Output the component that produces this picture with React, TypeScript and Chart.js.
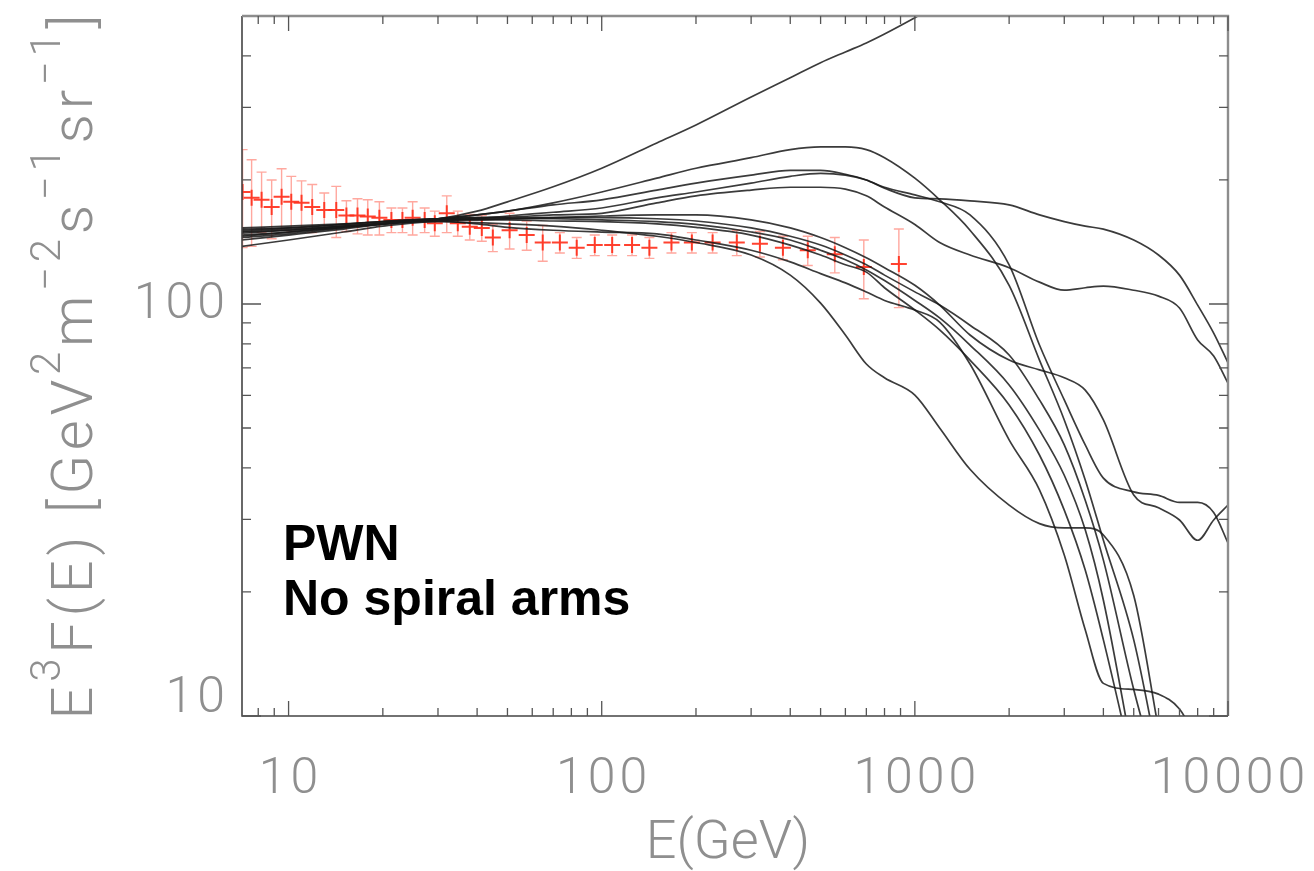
import React, { useEffect, useRef } from "react";
import { Chart, registerables } from "chart.js";

Chart.register(...registerables);

// Energy grid (GeV) shared by the model curves
const energyGrid = [7.1, 10, 15, 20, 30, 40, 50, 70, 100, 150, 200, 300, 400, 500, 600, 700, 800, 1000, 1200, 1500, 2000, 2500, 3000, 3500, 4000, 5000, 6000, 7000, 8000, 9000, 10000];

// Model curves E^3 F(E)
const modelT = [149.5, 151, 154.5, 157, 161, 168, 177, 192.5, 213.5, 246, 272, 318, 354, 385, 409, 430, 452, 495, 535, null, null, null, null, null, null, null, null, null, null, null, null];
const modelP = [152, 153, 156, 158.5, 161, 164.5, 168, 176, 187, 202, 213.5, 226.5, 237, 240.5, 240.5, 237, 226.5, 202, 179, 151, 111, 73.1, 52.3, 37.4, 26.7, 15.3, 7.8, null, null, null, null];
const modelQ = [150, 152, 154.5, 157, 161, 164.5, 168, 174, 179, 189, 196.5, 205.5, 211, 211, 206.5, 200, 191, 181, 180, 178, 174, 164.5, 158.5, 154.5, 152, 143, 131.5, 117.5, 99.4, 85, 72];
const modelR = [148.5, 151, 154.5, 157, 161, 162, 162.5, 164.5, 166, 176, 183, 189, 192, 192, 190, 183, 172, 156, 141, 131.5, 122.5, 113, 108, 109.5, 110.5, 108, 104.5, 97.8, 81.8, 74.8, 64.3];
const modelS = [147, 149.5, 153.5, 156.5, 159, 161, 163.5, 167, 171, 181, 187, 196.5, 204, 207.5, 205.5, 200, 192, 184, 177, 164.5, 124.5, 79.5, 58.5, 45.5, 37.8, 35, 34.3, 33, 33, 31.2, 26.3];
const modelU = [145, 148, 153, 156.5, 160, 160, 161, 162, 163.5, 164.5, 164.5, 160, 153, 145, 137, 129.5, 122.5, 111, 99.4, 84.1, 73.1, 69.2, 66.2, 61.8, 52.3, 34.4, 32, 29.9, 26.7, 29.9, 32.5];
const modelB1 = [153, 154.5, 156.5, 158.5, 161, 162, 162, 162, 162, 161, 159, 153, 146, 139, 131.5, 124.5, 117.5, 107, 99.4, 88.8, 75.2, 58.5, 45.5, 33.4, 23.9, 11.6, 7, null, null, null, null];
const modelB2 = [151, 153, 156, 158.5, 161, 161, 161, 161, 160, 158.5, 156, 149.5, 143, 135, 128, 121, 114, 102, 92.5, 79.5, 63.6, 49.4, 38.4, 28.3, 19.1, 7.8, null, null, null, null, null];
const modelB3 = [146, 149.5, 153.5, 156.5, 160, 160, 160, 159, 158.5, 156.5, 153.5, 147, 139, 131.5, 124.5, 119.5, 109.5, 96.7, 86.5, 73.1, 56.9, 43, 31.6, 22.6, 15.3, 7.4, null, null, null, null, null];
const modelB4 = [143, 147, 152, 156, 159, 156.5, 153.5, 151, 149.5, 148, 143, 135, 126.5, 118.5, 112.5, 106.9, 102, 96.7, 90.4, 71.5, 46.8, 35.4, 24.6, 16.2, 12, 11.6, 11.3, 10.4, 8.7, null, null];
const modelB5 = [138, 143, 149.5, 154.5, 158.5, 157.5, 156.5, 154.5, 151, 146, 141, 131.5, 117.5, 100.5, 84.1, 71.5, 66.2, 60.1, 50, 39.7, 32.5, 29.3, 28.6, 28.6, 27.5, 19.6, 9.3, null, null, null, null];

const modelCurves = [modelT, modelP, modelQ, modelR, modelS, modelU, modelB1, modelB2, modelB3, modelB4, modelB5];

// Measured data points (red crosses)
const dataEnergy = [7.13, 7.62, 8.2, 8.83, 9.5, 10.2, 11.0, 11.9, 13.0, 14.2, 15.3, 16.6, 17.9, 19.5, 21.3, 23.1, 24.9, 27.2, 29.3, 32.0, 34.7, 37.9, 41.4, 44.9, 50.8, 57.6, 64.8, 73.5, 83.2, 95.0, 108, 125, 142, 167, 194, 226, 270, 320, 379, 455, 555, 687, 889];
const dataFlux = [187, 181, 179, 172, 182, 177, 176, 172, 169, 169, 164, 164, 163, 162, 160, 160, 162, 160, 157, 166, 157, 154, 153, 145, 151, 147, 141, 141, 137, 139, 139, 139, 137, 141, 141, 141, 141, 140, 137, 135, 132, 123, 125];
const dataError = [50, 43, 30, 28, 31, 27, 23, 23, 17, 24, 14, 16, 16, 15, 11, 11, 15, 11, 11, 17, 11, 11, 11, 11, 15, 12, 14, 8, 8, 8, 8, 8, 8, 8, 8, 8, 10, 10, 9, 11, 13, 20, 27];

const xMajorTicks = [10, 100, 1000, 10000];
const yMajorTicks = [10, 100];
const xMinorTicks = [8, 9, 20, 30, 40, 50, 60, 70, 80, 90, 200, 300, 400, 500, 600, 700, 800, 900, 2000, 3000, 4000, 5000, 6000, 7000, 8000, 9000];
const yMinorTicks = [20, 30, 40, 50, 60, 70, 80, 90, 200, 300, 400];
const xRange = [7.1, 10000];
const yRange = [10, 500];

const annotationLines = ["PWN", "No spiral arms"];
const xTitle = "E(GeV)";
const yTitleParts = [
  { t: "E", sup: false },
  { t: "3", sup: true },
  { t: "F(E) [GeV", sup: false },
  { t: "2", sup: true },
  { t: "m", sup: false },
  { t: "\u22122", sup: true },
  { t: "s", sup: false },
  { t: "\u22121", sup: true },
  { t: "sr", sup: false },
  { t: "\u22121", sup: true },
  { t: "]", sup: false },
];

const LABEL_FONT = "300 50px Roboto, 'DejaVu Sans', sans-serif";
const LABEL_COLOR = "#8f8f8f";

function drawYTitle(ctx: CanvasRenderingContext2D, cx: number, cy: number, target: number) {
  const big = "300 58px Roboto, 'DejaVu Sans', sans-serif";
  const small = "300 42px Roboto, 'DejaVu Sans', sans-serif";
  const chars: { c: string; sup: boolean; w: number }[] = [];
  yTitleParts.forEach((p) => {
    ctx.font = p.sup ? small : big;
    for (const c of p.t) chars.push({ c, sup: p.sup, w: ctx.measureText(c).width });
  });
  const natural = chars.reduce((s, c) => s + c.w, 0);
  const gap = Math.max(0, (target - natural) / (chars.length - 1));
  ctx.save();
  ctx.translate(cx, cy);
  ctx.rotate(-Math.PI / 2);
  ctx.fillStyle = LABEL_COLOR;
  ctx.textBaseline = "alphabetic";
  ctx.textAlign = "left";
  let x = -target / 2;
  chars.forEach((c) => {
    ctx.font = c.sup ? small : big;
    ctx.fillText(c.c, x, c.sup ? -32 : 0);
    x += c.w + gap;
  });
  ctx.restore();
}

const decorPlugin = {
  id: "decor",
  beforeDatasetsDraw(chart: any) {
    const { ctx, chartArea: a, scales } = chart;
    const xs = scales.x;
    const ys = scales.y;
    ctx.save();
    ctx.beginPath();
    ctx.rect(a.left, a.top, a.right - a.left, a.bottom - a.top);
    ctx.clip();
    ctx.strokeStyle = "rgba(255,110,95,0.6)";
    ctx.lineWidth = 1.4;
    dataEnergy.forEach((e, i) => {
      const px = xs.getPixelForValue(e);
      const top = ys.getPixelForValue(dataFlux[i] + dataError[i]);
      const bot = ys.getPixelForValue(dataFlux[i] - dataError[i]);
      ctx.beginPath();
      ctx.moveTo(px, top);
      ctx.lineTo(px, bot);
      ctx.moveTo(px - 5, top);
      ctx.lineTo(px + 5, top);
      ctx.moveTo(px - 5, bot);
      ctx.lineTo(px + 5, bot);
      ctx.stroke();
    });
    ctx.restore();
  },
  afterDraw(chart: any) {
    const { ctx, chartArea: a, scales } = chart;
    const xs = scales.x;
    const ys = scales.y;
    ctx.save();
    // frame
    ctx.lineWidth = 1.6;
    ctx.strokeStyle = "#444";
    ctx.beginPath();
    ctx.moveTo(a.left, a.top);
    ctx.lineTo(a.left, a.bottom);
    ctx.lineTo(a.right, a.bottom);
    ctx.stroke();
    ctx.lineWidth = 2.4;
    ctx.strokeStyle = "#8d8d8d";
    ctx.beginPath();
    ctx.moveTo(a.left, a.top);
    ctx.lineTo(a.right, a.top);
    ctx.lineTo(a.right, a.bottom);
    ctx.stroke();
    // ticks
    ctx.lineWidth = 1.3;
    ctx.strokeStyle = "#555";
    const xt = (v: number, len: number) => {
      const px = xs.getPixelForValue(v);
      ctx.beginPath();
      ctx.moveTo(px, a.bottom);
      ctx.lineTo(px, a.bottom - len);
      ctx.moveTo(px, a.top);
      ctx.lineTo(px, a.top + len);
      ctx.stroke();
    };
    const yt = (v: number, len: number) => {
      const py = ys.getPixelForValue(v);
      ctx.beginPath();
      ctx.moveTo(a.left, py);
      ctx.lineTo(a.left + len, py);
      ctx.moveTo(a.right, py);
      ctx.lineTo(a.right - len, py);
      ctx.stroke();
    };
    xMinorTicks.forEach((v) => xt(v, 8));
    xMajorTicks.forEach((v) => xt(v, 15));
    yMinorTicks.forEach((v) => yt(v, 9));
    yMajorTicks.forEach((v) => yt(v, 19));
    // tick labels
    ctx.font = LABEL_FONT;
    ctx.fillStyle = LABEL_COLOR;
    ctx.textBaseline = "alphabetic";
    ctx.textAlign = "left";
    (ctx as any).letterSpacing = "4px";
    xMajorTicks.forEach((v) => {
      const s = String(v);
      const w = ctx.measureText(s).width - 4;
      ctx.fillText(s, xs.getPixelForValue(v) - w / 2, 793);
    });
    ctx.textBaseline = "middle";
    yMajorTicks.forEach((v) => {
      const s = String(v);
      const w = ctx.measureText(s).width - 4;
      const py = Math.min(ys.getPixelForValue(v), a.bottom - 19);
      ctx.fillText(s, a.left - 17 - w, py + 2);
    });
    (ctx as any).letterSpacing = "0px";
    // axis titles
    ctx.font = "300 54px Roboto, 'DejaVu Sans', sans-serif";
    ctx.textAlign = "center";
    ctx.textBaseline = "alphabetic";
    ctx.fillText(xTitle, 728, 858);
    drawYTitle(ctx, 92, (a.top + a.bottom) / 2 + 1, 705);
    // annotation
    ctx.font = "bold 50px 'Liberation Sans', Arial, sans-serif";
    ctx.fillStyle = "#000";
    ctx.textAlign = "left";
    ctx.fillText(annotationLines[0], 283, 560);
    ctx.fillText(annotationLines[1], 283, 615);
    ctx.restore();
  },
};

export default function App() {
  const canvasRef = useRef<HTMLCanvasElement | null>(null);
  useEffect(() => {
    const canvas = canvasRef.current;
    if (!canvas) return;
    const lineSets = modelCurves.map((curve) => ({
      type: "line" as const,
      data: energyGrid.map((e, i) => ({ x: e, y: curve[i] })),
      borderColor: "rgba(25,25,25,0.85)",
      borderWidth: 1.7,
      pointRadius: 0,
      fill: false,
      cubicInterpolationMode: "monotone" as const,
      spanGaps: false,
      order: 0,
    }));
    const pointSet = {
      type: "scatter" as const,
      data: dataEnergy.map((e, i) => ({ x: e, y: dataFlux[i] })),
      pointStyle: "cross",
      pointRadius: 8,
      borderWidth: 2,
      borderColor: "rgba(255,45,25,0.9)",
      backgroundColor: "rgba(255,45,25,0.9)",
      order: 1,
    };
    const chart = new Chart(canvas, {
      type: "line",
      data: { datasets: [pointSet as any, ...lineSets] },
      options: {
        responsive: false,
        animation: false,
        devicePixelRatio: 1,
        layout: { padding: { left: 242, top: 16, right: 86, bottom: 155 } },
        plugins: { legend: { display: false }, tooltip: { enabled: false } },
        scales: {
          x: { type: "logarithmic", min: xRange[0], max: xRange[1], display: false },
          y: { type: "logarithmic", min: yRange[0], max: yRange[1], display: false },
        },
      },
      plugins: [decorPlugin],
    });
    return () => chart.destroy();
  }, []);
  return (
    <div style={{ position: "absolute", left: 0, top: 0, width: 1314, height: 871, background: "#fff" }}>
      <canvas ref={canvasRef} width={1314} height={871} style={{ width: 1314, height: 871 }} />
    </div>
  );
}
